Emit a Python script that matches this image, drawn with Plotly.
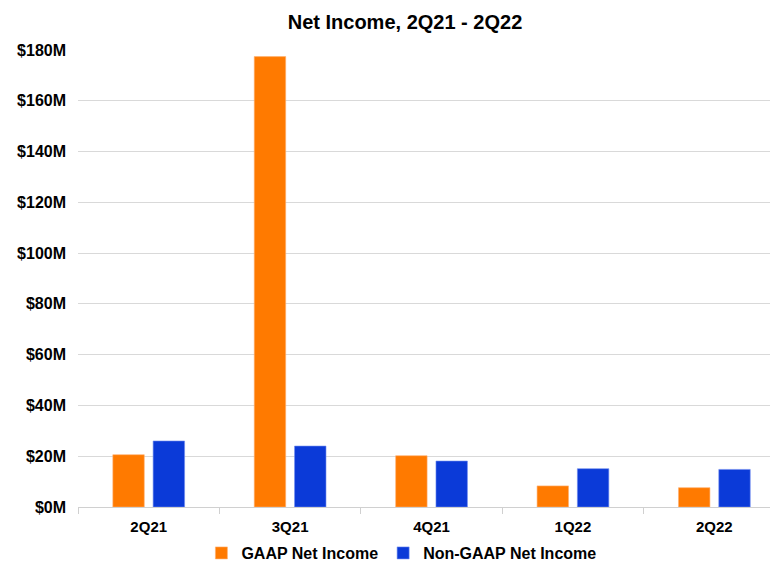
import plotly.graph_objects as go

quarters = ["2Q21", "3Q21", "4Q21", "1Q22", "2Q22"]
gaap_net_income = [20.6, 177.4, 20.2, 8.3, 7.6]        # $M
non_gaap_net_income = [26.0, 24.0, 18.1, 15.1, 14.8]   # $M
y_tick_values = [0, 20, 40, 60, 80, 100, 120, 140, 160, 180]
y_tick_labels = ["$0M", "$20M", "$40M", "$60M", "$80M", "$100M", "$120M", "$140M", "$160M", "$180M"]

font_family = "Liberation Sans, Arial, sans-serif"

# The page body has a default 8px margin, so the figure is sized to fit the window.
W, H = 770, 553

fig = go.Figure()
fig.add_trace(go.Bar(x=quarters, y=gaap_net_income, name="<b>GAAP Net Income</b>",
                     marker=dict(color="#FF7A00", line=dict(color="#FFB070", width=0.6))))
fig.add_trace(go.Bar(x=quarters, y=non_gaap_net_income, name="<b>Non-GAAP Net Income</b>",
                     marker=dict(color="#0B3AD8", line=dict(color="#6F8CF0", width=0.6))))

fig.update_layout(
    width=W, height=H,
    margin=dict(l=70, r=0, t=42, b=54, autoexpand=False),
    paper_bgcolor="white", plot_bgcolor="white",
    font=dict(family=font_family, size=15, color="black"),
    title=dict(text="<b>Net Income, 2Q21 - 2Q22</b>", x=397 / W, xanchor="center",
               y=1 - 14 / H, yanchor="middle", yref="container",
               font=dict(size=20, family=font_family, color="black")),
    barmode="group", bargap=0.43, bargroupgap=0.22,
    showlegend=True,
    legend=dict(orientation="h", x=0.462, xanchor="center",
                y=1 - 545 / H, yanchor="middle", yref="container",
                font=dict(size=16, family=font_family, color="black"),
                itemwidth=30, tracegroupgap=0),
)

fig.update_xaxes(
    range=[-0.5, 4.45], automargin=False,
    showgrid=False, showline=False, zeroline=False,
    ticks="outside", tickson="boundaries", ticklen=6, tickcolor="#D0D0D0",
    ticklabelstandoff=9,
    tickfont=dict(size=15, family=font_family, color="black"),
    tickprefix="<b>", ticksuffix="</b>",
)
fig.update_yaxes(
    range=[0, 180], automargin=False,
    tickvals=y_tick_values,
    ticktext=["<b>" + t + "</b>" for t in y_tick_labels],
    showgrid=True, gridcolor="#D9D9D9", gridwidth=1,
    zeroline=True, zerolinecolor="#D0D0D0", zerolinewidth=1,
    showline=False, ticks="",
    ticklabelstandoff=11,
    tickfont=dict(size=16, family=font_family, color="black"),
)

fig.write_html("out.html")
